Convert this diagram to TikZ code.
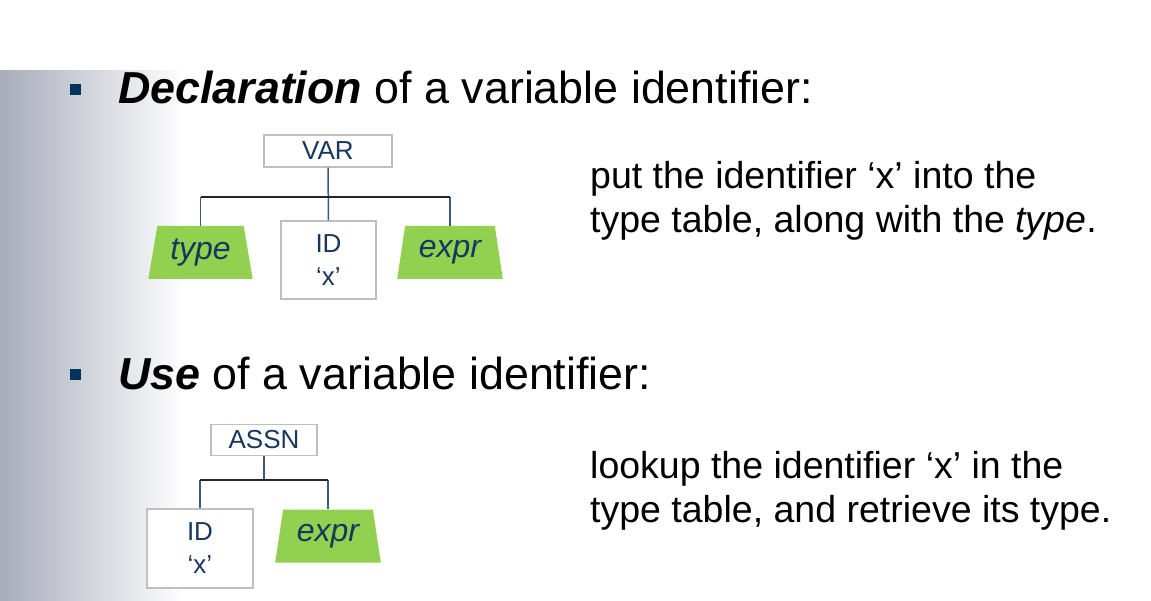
\documentclass[tikz,border=0pt]{standalone}
\usepackage{fontspec}
\setmainfont{Liberation Sans}
\usetikzlibrary{shapes.geometric}
\definecolor{bulletblue}{HTML}{00345E}
\definecolor{nodetext}{HTML}{17375E}
\definecolor{boxline}{HTML}{BFBFBF}
\definecolor{stem}{HTML}{3B5B7B}
\definecolor{leafgreen}{HTML}{92D050}
\definecolor{bggray}{HTML}{A8ACBB}
\tikzset{
  box/.style={draw=boxline, line width=1.2pt, fill=white, inner sep=0pt, text=nodetext, align=center},
  trap/.style={trapezium, trapezium stretches=true, trapezium left angle=77, trapezium right angle=77,
    fill=leafgreen, inner sep=0pt, text=nodetext, font=\fontsize{32}{36}\selectfont\itshape},
  stemline/.style={draw=stem, line width=1.5pt},
  barline/.style={draw=black!85, line width=1.5pt},
  head/.style={anchor=base west, inner sep=0pt, font=\fontsize{44.8}{52}\selectfont},
  note/.style={anchor=base west, inner sep=0pt, align=left, font=\fontsize{37.5}{44}\selectfont},
  bulletsq/.style={fill=bulletblue, minimum size=11pt, inner sep=0pt}
}
\begin{document}
\begin{tikzpicture}[x=1pt,y=-1pt]
\useasboundingbox (0,0) rectangle (1151,601);
% background
\fill[white] (0,0) rectangle (1151,601);
\shade[left color=bggray, right color=white] (0,71) rectangle (185,601);

% headings
\node[bulletsq] (b1) at (75.5,89.5) {};
\node[head] (h1) at (118,104) {\textbf{\textit{Declaration}} of a variable identifier:};
\node[bulletsq] (b2) at (75.5,374.5) {};
\node[head] (h2) at (118,389) {\textbf{\textit{Use}} of a variable identifier:};

% tree 1
\node[box, minimum width=128, minimum height=32, font=\fontsize{26}{30}\selectfont] (var) at (328,151) {VAR};
\node[box, minimum width=95, minimum height=78, font=\fontsize{26}{33}\selectfont] (id1) at (328.5,260) {ID\\‘x’};
\node[trap, minimum width=105, minimum height=53] (type) at (200.5,252.5) {type};
\node[trap, minimum width=106, minimum height=53] (expr1) at (450,252.5) {expr};
\coordinate (j1) at (328,197);
\draw[stemline] (var.south) -- (id1.north);
\draw[stemline] (type.north |- j1) -- (type.north);
\draw[stemline] (expr1.north |- j1) -- (expr1.north);
\draw[barline] (type.north |- j1) -- (expr1.north |- j1);

\node[note] (n1) at (590,233) {put the identifier ‘x’ into the\\type table, along with the \textit{type}.};

% tree 2
\node[box, minimum width=106, minimum height=31, font=\fontsize{26}{30}\selectfont] (assn) at (264,440) {ASSN};
\node[box, minimum width=106, minimum height=79, font=\fontsize{26}{33}\selectfont] (id2) at (200,548.5) {ID\\‘x’};
\node[trap, minimum width=106, minimum height=53] (expr2) at (328,536) {expr};
\coordinate (j2) at (264,480);
\draw[stemline] (assn.south) -- (j2);
\draw[stemline] (id2.north |- j2) -- (id2.north);
\draw[stemline] (expr2.north |- j2) -- (expr2.north);
\draw[barline] (id2.north |- j2) -- (expr2.north |- j2);

\node[note] (n2) at (590,522) {lookup the identifier ‘x’ in the\\type table, and retrieve its type.};
\end{tikzpicture}
\end{document}
